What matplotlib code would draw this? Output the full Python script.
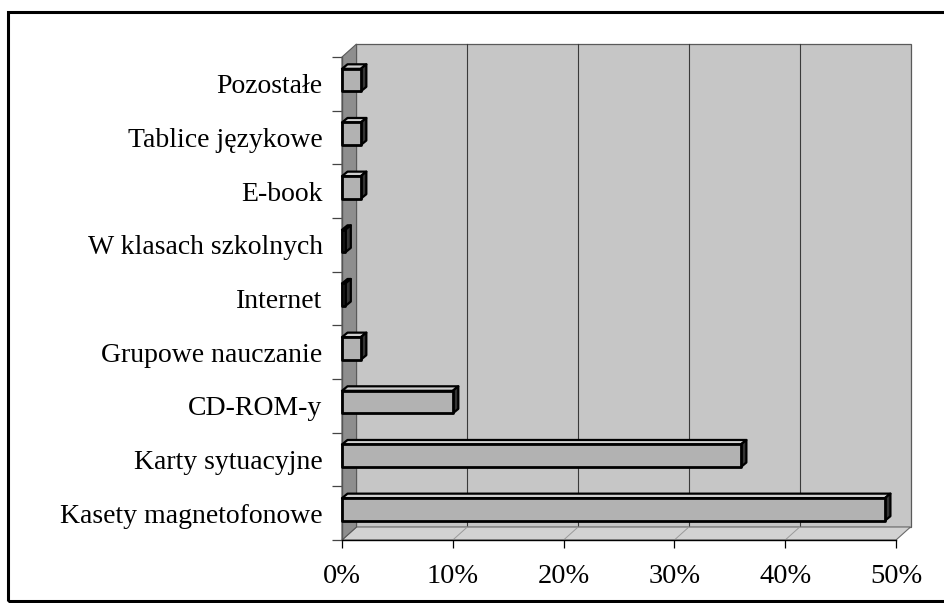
import matplotlib.pyplot as plt
from matplotlib.patches import Polygon, Rectangle
import numpy as np

# Categories bottom-to-top and their shares (%)
categories = ["Kasety magnetofonowe", "Karty sytuacyjne", "CD-ROM-y",
              "Grupowe nauczanie", "Internet", "W klasach szkolnych",
              "E-book", "Tablice językowe", "Pozostałe"]
values = [49, 36, 10, 1.7, 0.3, 0.3, 1.7, 1.7, 1.7]
xticks = [0, 10, 20, 30, 40, 50]
xticklabels = ["0%", "10%", "20%", "30%", "40%", "50%"]

plt.rcParams['font.family'] = ['Liberation Serif', 'DejaVu Serif']

W, H = 945, 603
fig = plt.figure(figsize=(W / 100, H / 100), dpi=100)
fig.patch.set_facecolor("white")

# front plane of the 3D box in pixels
x0, x1 = 342, 896
y_top, y_bot = 57, 540
ax = fig.add_axes([x0 / W, (H - y_bot) / H, (x1 - x0) / W, (y_bot - y_top) / H])
ax.set_xlim(0, 50)
ax.set_ylim(-0.5, len(categories) - 0.5)
ax.set_facecolor("none")

# depth of the box (data units)
DX = 14.5 / (x1 - x0) * 50
DY = 13 / (y_bot - y_top) * len(categories)
ylo, yhi = -0.5, len(categories) - 0.5

# back wall
ax.add_patch(Rectangle((DX, ylo + DY), 50, yhi - ylo, facecolor="#c6c6c6",
                       edgecolor="#5a5a5a", lw=0.9, clip_on=False, zorder=0))
# gridlines on the wall
for x in xticks[1:-1]:
    ax.plot([x + DX, x + DX], [ylo + DY, yhi + DY], color="#3a3a3a", lw=0.8,
            clip_on=False, zorder=1)
# floor
ax.add_patch(Polygon([(0, ylo), (50, ylo), (50 + DX, ylo + DY), (DX, ylo + DY)],
                     closed=True, facecolor="#d2d2d2", edgecolor="#6a6a6a",
                     lw=0.8, clip_on=False, zorder=1))
for x in xticks[1:-1]:
    ax.plot([x, x + DX], [ylo, ylo + DY], color="#9a9a9a", lw=0.7,
            clip_on=False, zorder=1.5)
# left side wall
ax.add_patch(Polygon([(0, ylo), (DX, ylo + DY), (DX, yhi + DY), (0, yhi)],
                     closed=True, facecolor="#8e8e8e", edgecolor="#5a5a5a",
                     lw=0.8, clip_on=False, zorder=2))

# bars with a shallow 3D top and a dark end cap
bdx = 5.5 / (x1 - x0) * 50
bdy = 4.5 / (y_bot - y_top) * len(categories)
lo, hi = -0.14, 0.28
for i, v in enumerate(values):
    b, t = i + lo, i + hi
    top = Polygon([(0, t), (v, t), (v + bdx, t + bdy), (bdx, t + bdy)], closed=True,
                  facecolor="#d0d0d0", edgecolor="black", lw=1.6, zorder=3,
                  clip_on=False, joinstyle="round")
    end = Polygon([(v, b), (v, t), (v + bdx, t + bdy), (v + bdx, b + bdy)], closed=True,
                  facecolor="#353535", edgecolor="black", lw=1.6, zorder=3,
                  clip_on=False, joinstyle="round")
    front = Rectangle((0, b), v, t - b, facecolor="#b2b2b2", edgecolor="black",
                      lw=2.0, zorder=4, clip_on=False, joinstyle="round")
    ax.add_patch(top)
    ax.add_patch(end)
    ax.add_patch(front)

# axes styling
for s in ["top", "right"]:
    ax.spines[s].set_visible(False)
ax.spines["bottom"].set_color("black")
ax.spines["bottom"].set_linewidth(1.0)
ax.spines["left"].set_color("#555555")
ax.spines["left"].set_linewidth(1.0)

ax.set_xticks(xticks)
ax.set_xticklabels(xticklabels, fontsize=20.5)
ax.tick_params(axis="x", direction="out", length=6, width=0.9, pad=11, colors="black")

ax.set_yticks(range(len(categories)))
ax.set_yticklabels(categories, fontsize=20)
ax.tick_params(axis="y", which="major", length=0, pad=14)
ax.set_yticks(np.arange(-0.5, len(categories), 1), minor=True)
ax.tick_params(axis="y", which="minor", direction="out", length=7, width=0.9,
               color="#444444")

# outer frame of the chart area
fig.add_artist(Rectangle((8 / W, 2 / H), 1.0, (H - 14) / H, transform=fig.transFigure,
                         facecolor="none", edgecolor="black", lw=2.2, clip_on=False))

fig.savefig("out.png", dpi=100)
